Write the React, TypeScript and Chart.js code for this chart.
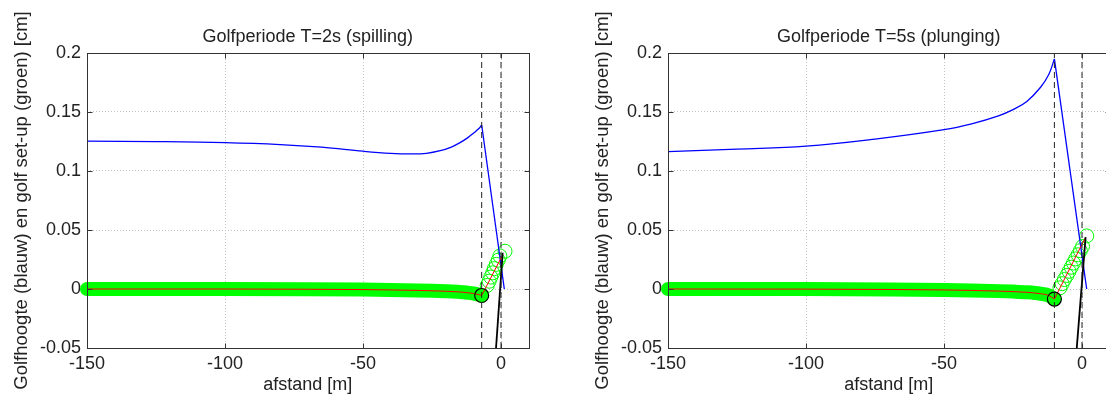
import React, { useEffect, useRef } from 'react';
import { Chart, registerables } from 'chart.js';
Chart.register(...registerables);

const FONT = '"Liberation Sans", Arial, sans-serif';

const xTicks = [-150, -100, -50, 0];
const yTicks = [-0.05, 0, 0.05, 0.1, 0.15, 0.2];
const xLabel = 'afstand [m]';
const yLabel = 'Golfhoogte (blauw) en golf set-up (groen) [cm]';

// ---- T = 2s (spilling) ----
const title2 = 'Golfperiode T=2s (spilling)';
const blueX2 = [-150, -125, -100, -80, -65, -50, -40, -33, -27, -22, -18, -15, -12, -10, -8, -7];
const blueY2 = [0.1253, 0.1249, 0.124, 0.1224, 0.1202, 0.1168, 0.115, 0.1145, 0.115, 0.1172, 0.1203, 0.1238, 0.1283, 0.132, 0.136, 0.139];
const blueDropX2 = [-7, 1.2];
const blueDropY2 = [0.139, 0];
const setupX2 = [-150, -100, -70, -50, -40, -30, -25, -20, -15, -12, -10, -8, -7];
const setupY2 = [0, 0, -0.0002, -0.0005, -0.0008, -0.0012, -0.0015, -0.0019, -0.0025, -0.0032, -0.0038, -0.0048, -0.0055];
const rampX2 = [-5.0, -4.3, -3.7, -3.0, -2.4, -1.7, -1.0, -0.4, 1.45];
const rampY2 = [0.003, 0.0066, 0.0101, 0.0137, 0.0173, 0.0209, 0.0244, 0.028, 0.032];
const redRampX2 = [-7, 0.6];
const redRampY2 = [-0.0055, 0.029];
const beachX2 = [-1.8, 0.6];
const beachY2 = [-0.05, 0.0307];
const breakX2 = -7;

// ---- T = 5s (plunging) ----
const title5 = 'Golfperiode T=5s (plunging)';
const blueX5 = [-150, -125, -100, -75, -50, -40, -30, -25, -20, -15, -12, -10];
const blueY5 = [0.1164, 0.1185, 0.121, 0.127, 0.135, 0.14, 0.147, 0.152, 0.159, 0.171, 0.182, 0.195];
const blueDropX5 = [-10, 1.7];
const blueDropY5 = [0.195, 0];
const setupX5 = [-150, -100, -70, -50, -40, -30, -25, -20, -15, -12, -10];
const setupY5 = [0, -0.0001, -0.0004, -0.0008, -0.0012, -0.0018, -0.0022, -0.0028, -0.004, -0.0055, -0.0085];
const rampX5 = [-8.0, -7.2, -6.4, -5.5, -4.7, -3.9, -3.1, -2.3, -1.4, -0.6, 0.2, 1.7];
const rampY5 = [0.001, 0.0045, 0.008, 0.0115, 0.015, 0.0185, 0.022, 0.0255, 0.029, 0.0325, 0.036, 0.045];
const redRampX5 = [-10, 1.1];
const redRampY5 = [-0.0085, 0.043];
const beachX5 = [-1.9, 1.3];
const beachY5 = [-0.05, 0.044];
const breakX5 = -10;

const shoreX = 0;
const yMin = -0.05;
const yMax = 0.2;
const xMin = -150;
const xMax = 10;

const pts = (xs: number[], ys: number[]) => xs.map((x, i) => ({ x, y: ys[i] }));

type Cfg = {
  left: number;
  title: string;
  blueX: number[]; blueY: number[];
  blueDropX: number[]; blueDropY: number[];
  setupX: number[]; setupY: number[];
  rampX: number[]; rampY: number[];
  redRampX: number[]; redRampY: number[];
  beachX: number[]; beachY: number[];
  breakX: number;
};

const cfg2: Cfg = {
  left: 0, title: title2,
  blueX: blueX2, blueY: blueY2, blueDropX: blueDropX2, blueDropY: blueDropY2,
  setupX: setupX2, setupY: setupY2, rampX: rampX2, rampY: rampY2,
  redRampX: redRampX2, redRampY: redRampY2, beachX: beachX2, beachY: beachY2, breakX: breakX2,
};
const cfg5: Cfg = {
  left: 581, title: title5,
  blueX: blueX5, blueY: blueY5, blueDropX: blueDropX5, blueDropY: blueDropY5,
  setupX: setupX5, setupY: setupY5, rampX: rampX5, rampY: rampY5,
  redRampX: redRampX5, redRampY: redRampY5, beachX: beachX5, beachY: beachY5, breakX: breakX5,
};

const framePlugin = {
  id: 'frame',
  afterDraw(chart: any, _args: any, opts: any) {
    const { ctx, chartArea: a } = chart;
    const x = chart.scales.x;
    const y = chart.scales.y;
    ctx.save();
    ctx.strokeStyle = '#333333';
    ctx.lineWidth = 1;
    const L = Math.round(a.left) + 0.5;
    const T = Math.round(a.top) + 0.5;
    const R = Math.round(a.right) + 0.5;
    const B = Math.round(a.bottom) + 0.5;
    ctx.strokeRect(L, T, R - L, B - T);
    const tl = 5;
    ctx.beginPath();
    for (const v of xTicks) {
      const px = Math.round(x.getPixelForValue(v)) + 0.5;
      ctx.moveTo(px, B); ctx.lineTo(px, B - tl);
      ctx.moveTo(px, T); ctx.lineTo(px, T + tl);
    }
    for (const v of yTicks) {
      const py = Math.round(y.getPixelForValue(v)) + 0.5;
      ctx.moveTo(L, py); ctx.lineTo(L + tl, py);
      ctx.moveTo(R, py); ctx.lineTo(R - tl, py);
    }
    ctx.stroke();
    ctx.fillStyle = '#222222';
    ctx.font = `18px ${FONT}`;
    ctx.textAlign = 'center';
    ctx.textBaseline = 'middle';
    ctx.fillText(opts.text, (a.left + a.right) / 2, 37);
    ctx.restore();
  },
};

function makeConfig(c: Cfg): any {
  const dash = (xv: number) => ({
    data: pts([xv, xv], [yMin, yMax]),
    showLine: true, borderColor: '#222222', borderWidth: 1, borderDash: [6, 4],
    pointRadius: 0, order: 1,
  });
  return {
    type: 'scatter',
    data: {
      datasets: [
        dash(c.breakX),
        dash(shoreX),
        {
          data: [{ x: c.setupX[c.setupX.length - 1], y: c.setupY[c.setupY.length - 1] }],
          pointRadius: 7, pointBorderColor: '#000000', pointBackgroundColor: 'rgba(0,0,0,0)',
          pointBorderWidth: 1.2, order: 2,
        },
        {
          data: pts(c.beachX, c.beachY), showLine: true, borderColor: '#000000', borderWidth: 1.8,
          pointRadius: 0, order: 3,
        },
        {
          data: pts(c.setupX, c.setupY), showLine: true, borderColor: '#ff0000', borderWidth: 1,
          cubicInterpolationMode: 'monotone', pointRadius: 0, order: 4,
        },
        {
          data: pts(c.redRampX, c.redRampY), showLine: true, borderColor: '#ff0000', borderWidth: 1,
          pointRadius: 0, order: 4,
        },
        {
          data: pts(c.blueX, c.blueY), showLine: true, borderColor: '#0000ff', borderWidth: 1.3,
          tension: 0.4, pointRadius: 0, order: 5,
        },
        {
          data: pts(c.blueDropX, c.blueDropY), showLine: true, borderColor: '#0000ff', borderWidth: 1.3,
          pointRadius: 0, order: 5,
        },
        {
          data: pts(c.rampX, c.rampY), showLine: false,
          pointRadius: 7, pointBorderColor: '#00ff00', pointBackgroundColor: 'rgba(0,0,0,0)',
          pointBorderWidth: 1, order: 6, clip: false,
        },
        {
          data: pts(c.setupX, c.setupY), showLine: true, borderColor: '#00ff00', borderWidth: 14,
          borderCapStyle: 'round', borderJoinStyle: 'round',
          cubicInterpolationMode: 'monotone', pointRadius: 0, order: 7, clip: false,
        },
      ],
    },
    options: {
      animation: false,
      responsive: false,
      devicePixelRatio: 1,
      layout: { padding: { top: 53, right: 24.4, bottom: 0, left: 0 } },
      plugins: {
        legend: { display: false },
        tooltip: { enabled: false },
        title: { display: false },
        frame: { text: c.title },
      },
      scales: {
        x: {
          type: 'linear', min: xMin, max: xMax,
          afterBuildTicks: (s: any) => { s.ticks = xTicks.map((v) => ({ value: v })); },
          afterFit: (s: any) => { s.height = 52; },
          ticks: {
            color: '#222222', font: { family: FONT, size: 18 }, padding: 5,
            maxRotation: 0, autoSkip: false,
            callback: (v: any) => String(v),
          },
          grid: { color: '#c4c4c4', lineWidth: 1, drawTicks: false },
          border: { display: false, dash: [1, 2] },
          title: {
            display: true, text: xLabel, color: '#222222',
            font: { family: FONT, size: 18 }, padding: { top: 0, bottom: 4 },
          },
        },
        y: {
          type: 'linear', min: yMin, max: yMax,
          afterBuildTicks: (s: any) => { s.ticks = yTicks.map((v) => ({ value: v })); },
          afterFit: (s: any) => { s.width = 87; },
          ticks: {
            color: '#222222', font: { family: FONT, size: 18 }, padding: 6, autoSkip: false,
            callback: (v: any) => String(+Number(v).toFixed(2)),
          },
          grid: { color: '#c4c4c4', lineWidth: 1, drawTicks: false },
          border: { display: false, dash: [1, 2] },
          title: {
            display: true, text: yLabel, color: '#222222',
            font: { family: FONT, size: 18.5 }, padding: { top: 11, bottom: 0 },
          },
        },
      },
    },
    plugins: [framePlugin],
  };
}

function GolfChart({ c }: { c: Cfg }) {
  const ref = useRef<HTMLCanvasElement | null>(null);
  useEffect(() => {
    if (!ref.current) return;
    const chart = new Chart(ref.current, makeConfig(c));
    return () => chart.destroy();
  }, [c]);
  return (
    <canvas
      ref={ref}
      width={553}
      height={400}
      style={{ position: 'absolute', left: c.left, top: 0, width: 553, height: 400 }}
    />
  );
}

export default function App() {
  return (
    <div
      style={{
        position: 'absolute', left: 0, top: 0, width: 1106, height: 400,
        overflow: 'hidden', background: '#ffffff',
      }}
    >
      <GolfChart c={cfg2} />
      <GolfChart c={cfg5} />
    </div>
  );
}
